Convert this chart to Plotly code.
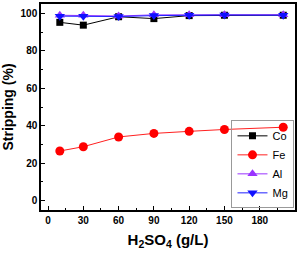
import plotly.graph_objects as go

h2so4 = [10, 30, 60, 90, 120, 150, 200]
co = [95.2, 93.7, 98.2, 97.2, 98.8, 99.0, 99.0]
fe = [26.5, 28.8, 34.0, 35.9, 37.0, 38.0, 39.2]
al = [99.0, 99.0, 98.6, 99.2, 99.2, 99.3, 99.3]
mg = [98.5, 98.5, 98.3, 98.8, 99.0, 99.1, 99.0]

fig = go.Figure()
fig.add_trace(go.Scatter(x=h2so4, y=co, name="Co", mode="lines+markers",
                         line=dict(color="black", width=1),
                         marker=dict(symbol="square", size=7, color="black")))
fig.add_trace(go.Scatter(x=h2so4, y=fe, name="Fe", mode="lines+markers",
                         line=dict(color="#ff2020", width=1),
                         marker=dict(symbol="circle", size=9, color="red")))
fig.add_trace(go.Scatter(x=h2so4, y=al, name="Al", mode="lines+markers",
                         line=dict(color="#9933ff", width=1),
                         marker=dict(symbol="triangle-up", size=9, color="#9933ff")))
fig.add_trace(go.Scatter(x=h2so4, y=mg, name="Mg", mode="lines+markers",
                         line=dict(color="#2020ff", width=1),
                         marker=dict(symbol="triangle-down", size=9, color="#1010ff")))

axis_common = dict(showline=True, linecolor="black", linewidth=1.5, mirror=True,
                   ticks="inside", ticklen=4, tickcolor="black", showgrid=False,
                   zeroline=False,
                   tickfont=dict(family="Liberation Sans", size=10, color="black", weight="bold"))

fig.update_layout(
    width=299, height=254,
    margin=dict(l=41, r=2, t=3, b=44),
    paper_bgcolor="white", plot_bgcolor="white",
    font=dict(family="Liberation Sans", color="black"),
    xaxis=dict(range=[-6, 210], tickvals=[0, 30, 60, 90, 120, 150, 180],
               minor=dict(ticks="inside", ticklen=2, dtick=15, tick0=0, tickcolor="black"),
               title=dict(text="<b>H<sub>2</sub>SO<sub>4</sub> (g/L)</b>", font=dict(size=15), standoff=10),
               **axis_common),
    yaxis=dict(range=[-5, 105], tickvals=[0, 20, 40, 60, 80, 100],
               minor=dict(ticks="inside", ticklen=2, dtick=10, tick0=0, tickcolor="black"),
               title=dict(text="<b>Stripping (%)</b>", font=dict(size=14), standoff=4),
               **axis_common),
    legend=dict(x=0.998, y=0.008, xanchor="right", yanchor="bottom",
                bordercolor="#999999", borderwidth=1, bgcolor="rgba(255,255,255,0)",
                font=dict(size=11), tracegroupgap=0, itemwidth=30),
    showlegend=True,
)

fig.write_html("out.html")
